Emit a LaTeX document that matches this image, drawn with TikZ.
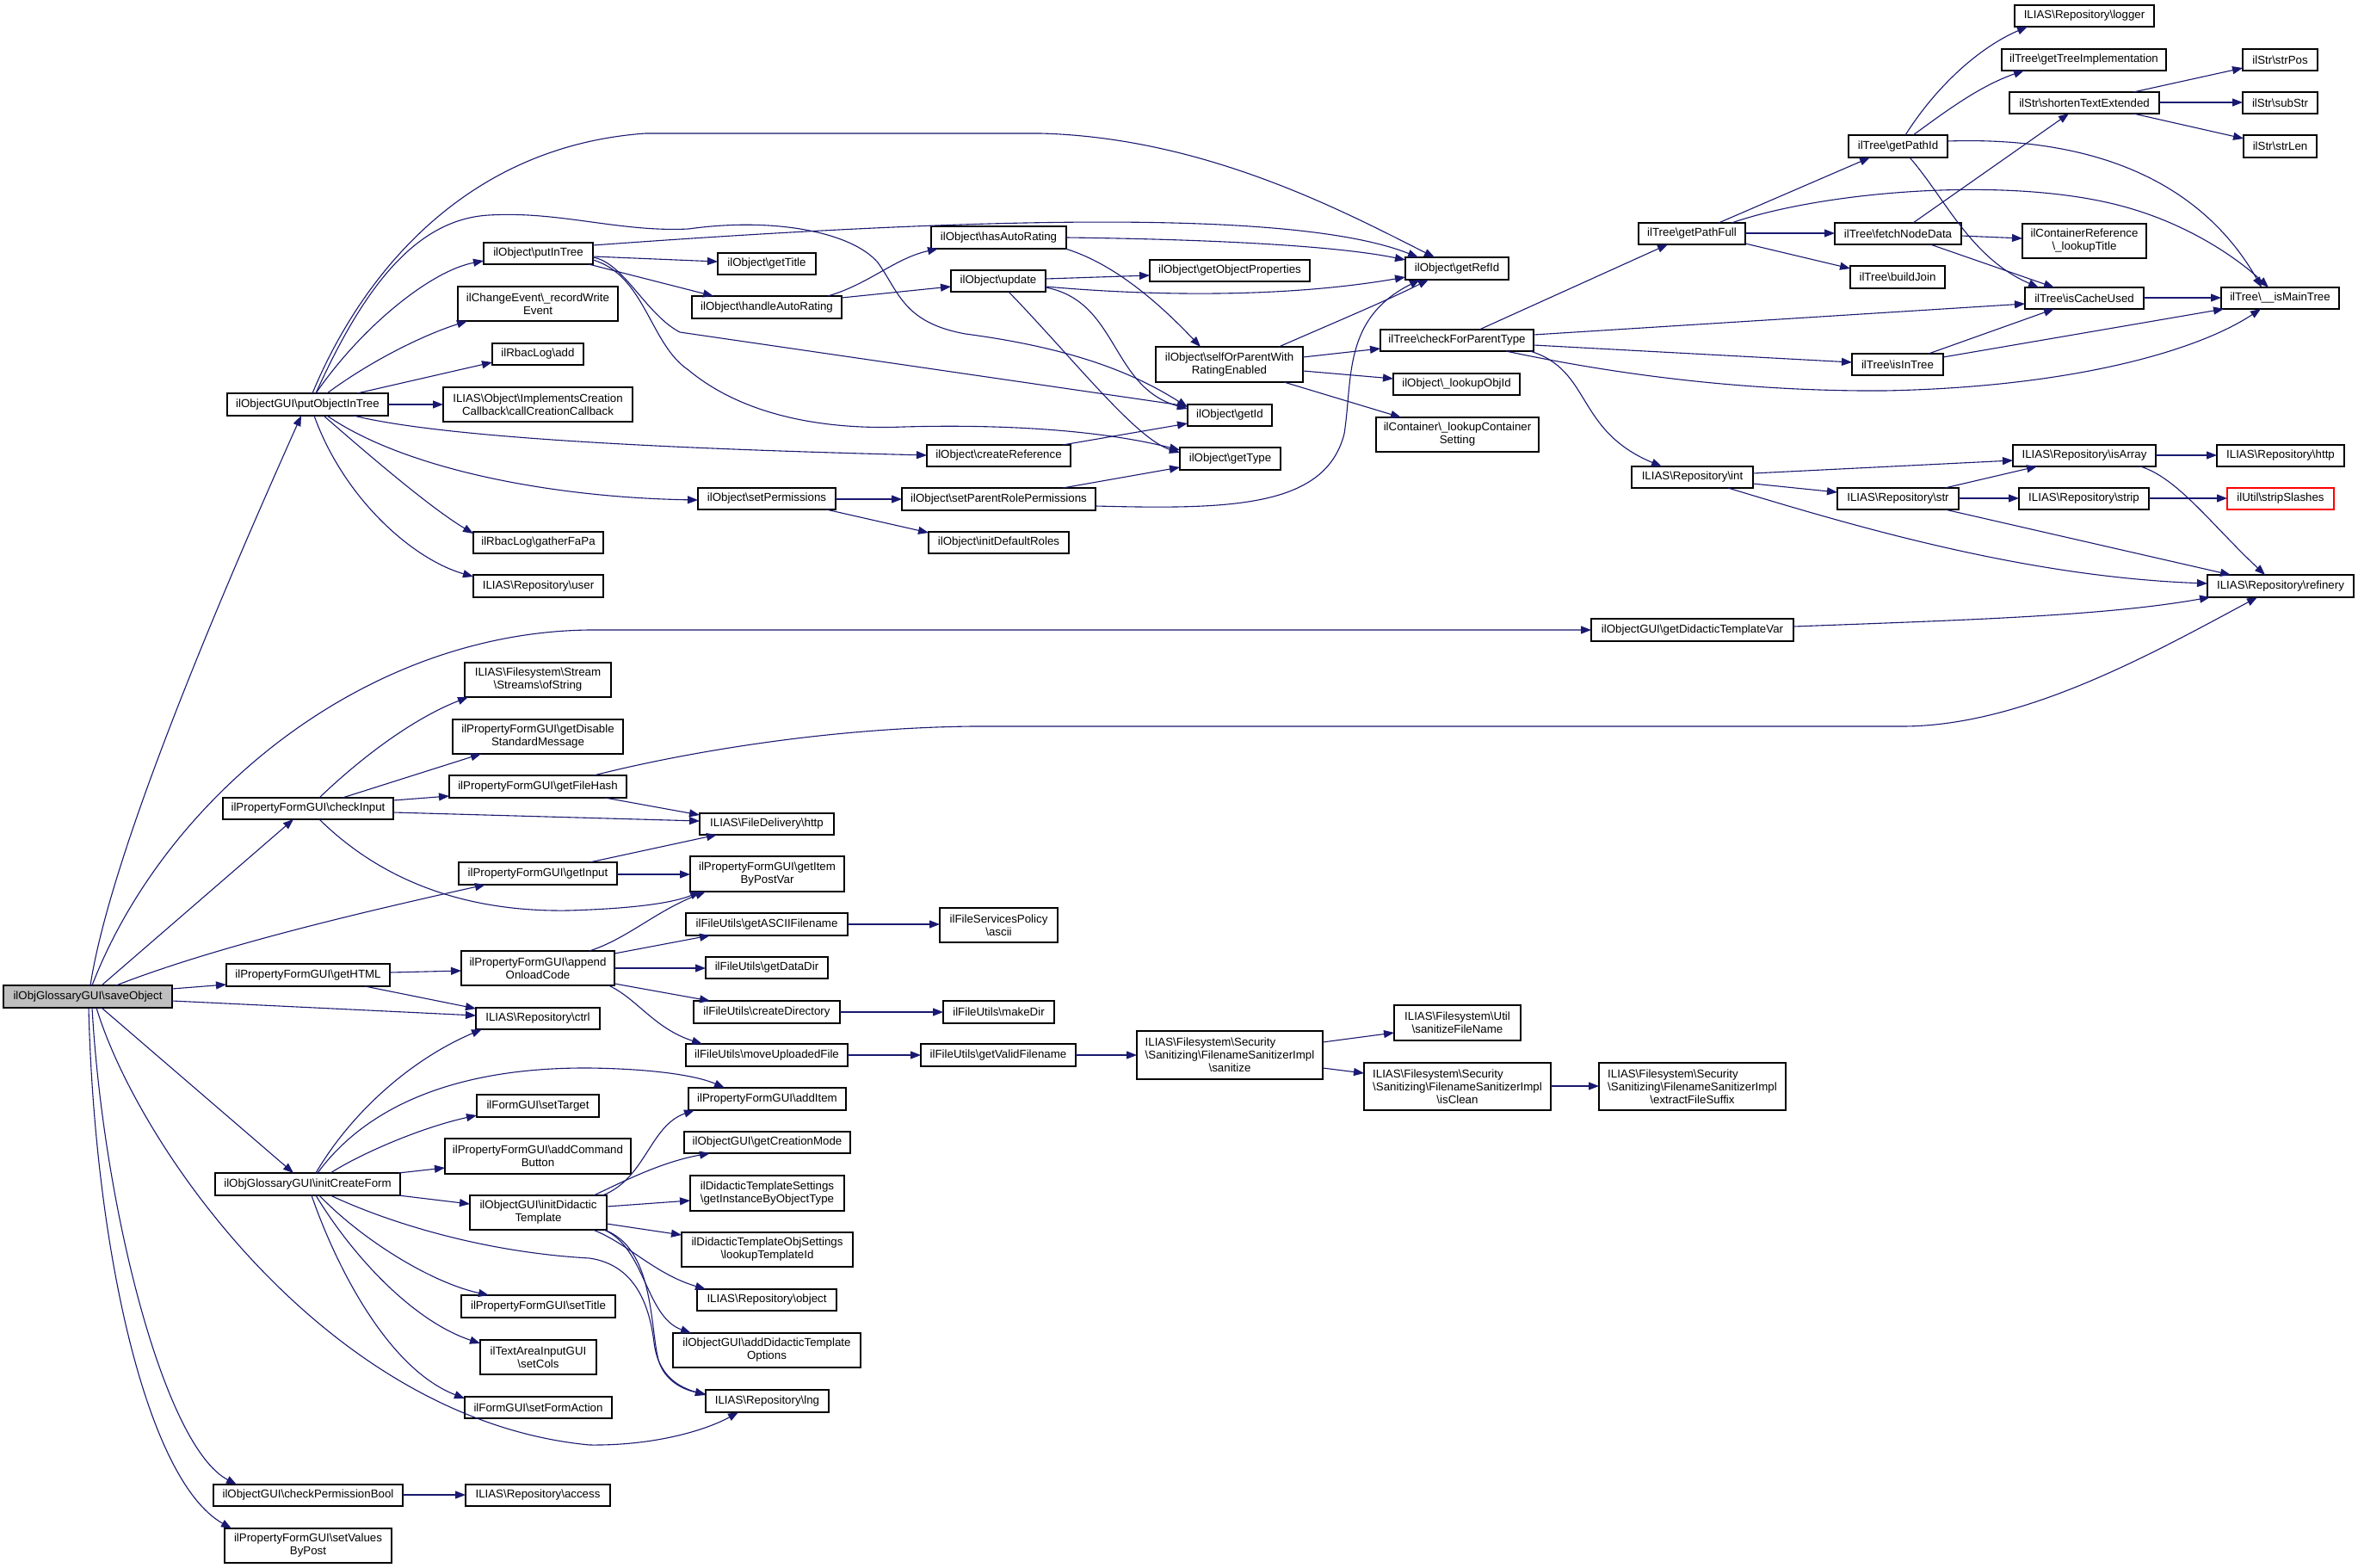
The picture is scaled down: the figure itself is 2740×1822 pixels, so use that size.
\documentclass[tikz,border=0pt]{standalone}
\usepackage{fontspec}
\setmainfont{Liberation Sans}
\usetikzlibrary{arrows.meta}
\definecolor{edgeblue}{RGB}{25,25,112}
\definecolor{nodegrey}{RGB}{191,191,191}
\newcommand{\bsl}{\textbackslash}
\newcommand{\nodefont}{\fontsize{13.3}{15}\selectfont}
\newcommand{\mkbox}[7]{%
  \pgfmathsetmacro{\mkW}{#5-#3}\pgfmathsetmacro{\mkH}{#6-#4}%
  \pgfmathsetmacro{\mkX}{(#3+#5)/2}\pgfmathsetmacro{\mkY}{(#4+#6)/2}%
  \node[box,#1,minimum width=\mkW pt,minimum height=\mkH pt] (#2) at (\mkX,\mkY) {#7};}
\begin{document}
\begin{tikzpicture}[x=1pt,y=-1pt,
  box/.style={draw=black,line width=1.3pt,fill=white,inner sep=0pt,outer sep=0pt,align=center,font=\nodefont},
  e/.style={draw=edgeblue,line width=1.1pt,-{Triangle[length=12pt,width=9pt]}}]
\useasboundingbox (0,0) rectangle (2740,1822);
\fill[white] (0,0) rectangle (2740,1822);
% ---------- nodes ----------
\mkbox{fill=nodegrey}{S}{4}{1145}{200}{1171}{ilObjGlossaryGUI\bsl saveObject}
\mkbox{}{P}{264}{457}{451}{483}{ilObjectGUI\bsl putObjectInTree}
\mkbox{}{CI}{259}{927}{457}{952}{ilPropertyFormGUI\bsl checkInput}
\mkbox{}{GH}{263}{1120}{453}{1146}{ilPropertyFormGUI\bsl getHTML}
\mkbox{}{ICF}{250}{1363}{465}{1389}{ilObjGlossaryGUI\bsl initCreateForm}
\mkbox{}{CPB}{248}{1725}{468}{1750}{ilObjectGUI\bsl checkPermissionBool}
\mkbox{}{SVP}{261}{1776}{455}{1816}{ilPropertyFormGUI\bsl setValues\\ByPost}
\mkbox{}{PIT}{562}{282}{689}{307}{ilObject\bsl putInTree}
\mkbox{}{RWE}{532}{333}{718}{373}{ilChangeEvent\bsl\_recordWrite\\Event}
\mkbox{}{RLA}{572}{399}{678}{424}{ilRbacLog\bsl add}
\mkbox{}{CCC}{515}{450}{735}{490}{ILIAS\bsl Object\bsl ImplementsCreation\\Callback\bsl callCreationCallback}
\mkbox{}{GFP}{550}{618}{701}{643}{ilRbacLog\bsl gatherFaPa}
\mkbox{}{USR}{550}{668}{701}{694}{ILIAS\bsl Repository\bsl user}
\mkbox{}{OFS}{540}{770}{710}{810}{ILIAS\bsl Filesystem\bsl Stream\\\bsl Streams\bsl ofString}
\mkbox{}{GDSM}{526}{836}{724}{876}{ilPropertyFormGUI\bsl getDisable\\StandardMessage}
\mkbox{}{GFH}{522}{901}{728}{927}{ilPropertyFormGUI\bsl getFileHash}
\mkbox{}{GIN}{533}{1002}{717}{1028}{ilPropertyFormGUI\bsl getInput}
\mkbox{}{AOC}{536}{1105}{714}{1145}{ilPropertyFormGUI\bsl append\\OnloadCode}
\mkbox{}{CTRL}{553}{1171}{697}{1196}{ILIAS\bsl Repository\bsl ctrl}
\mkbox{}{SETT}{554}{1272}{696}{1298}{ilFormGUI\bsl setTarget}
\mkbox{}{ACB}{517}{1323}{733}{1364}{ilPropertyFormGUI\bsl addCommand\\Button}
\mkbox{}{IDT}{546}{1389}{705}{1429}{ilObjectGUI\bsl initDidactic\\Template}
\mkbox{}{STI}{536}{1505}{715}{1531}{ilPropertyFormGUI\bsl setTitle}
\mkbox{}{SCO}{558}{1557}{693}{1597}{ilTextAreaInputGUI\\\bsl setCols}
\mkbox{}{SFA}{540}{1623}{711}{1648}{ilFormGUI\bsl setFormAction}
\mkbox{}{ACC}{541}{1725}{709}{1750}{ILIAS\bsl Repository\bsl access}
\mkbox{}{GT}{834}{294}{948}{319}{ilObject\bsl getTitle}
\mkbox{}{HAR}{804}{344}{978}{370}{ilObject\bsl handleAutoRating}
\mkbox{}{SP}{811}{567}{971}{592}{ilObject\bsl setPermissions}
\mkbox{}{FDH}{813}{945}{969}{970}{ILIAS\bsl FileDelivery\bsl http}
\mkbox{}{GIBP}{802}{995}{981}{1036}{ilPropertyFormGUI\bsl getItem\\ByPostVar}
\mkbox{}{GAF}{797}{1061}{985}{1087}{ilFileUtils\bsl getASCIIFilename}
\mkbox{}{GDD}{820}{1112}{962}{1137}{ilFileUtils\bsl getDataDir}
\mkbox{}{CD}{806}{1163}{976}{1189}{ilFileUtils\bsl createDirectory}
\mkbox{}{MUF}{797}{1213}{985}{1239}{ilFileUtils\bsl moveUploadedFile}
\mkbox{}{AI}{800}{1264}{983}{1290}{ilPropertyFormGUI\bsl addItem}
\mkbox{}{GCM}{795}{1315}{988}{1340}{ilObjectGUI\bsl getCreationMode}
\mkbox{}{GIOT}{802}{1366}{981}{1407}{ilDidacticTemplateSettings\\\bsl getInstanceByObjectType}
\mkbox{}{LTI}{792}{1432}{991}{1472}{ilDidacticTemplateObjSettings\\\bsl lookupTemplateId}
\mkbox{}{OBJ}{810}{1498}{972}{1523}{ILIAS\bsl Repository\bsl object}
\mkbox{}{ADTO}{782}{1549}{1000}{1589}{ilObjectGUI\bsl addDidacticTemplate\\Options}
\mkbox{}{LNG}{820}{1615}{963}{1641}{ILIAS\bsl Repository\bsl lng}
\mkbox{}{HASAR}{1082}{263}{1239}{289}{ilObject\bsl hasAutoRating}
\mkbox{}{UPD}{1105}{314}{1215}{339}{ilObject\bsl update}
\mkbox{}{CR}{1077}{517}{1244}{542}{ilObject\bsl createReference}
\mkbox{}{SPRP}{1048}{567}{1273}{593}{ilObject\bsl setParentRolePermissions}
\mkbox{}{IDR}{1079}{618}{1242}{643}{ilObject\bsl initDefaultRoles}
\mkbox{}{FSPA}{1092}{1055}{1229}{1095}{ilFileServicesPolicy\\\bsl ascii}
\mkbox{}{MKD}{1096}{1163}{1225}{1189}{ilFileUtils\bsl makeDir}
\mkbox{}{GVF}{1070}{1213}{1250}{1239}{ilFileUtils\bsl getValidFilename}
\mkbox{}{GOP}{1336}{302}{1522}{327}{ilObject\bsl getObjectProperties}
\mkbox{}{SOP}{1343}{403}{1514}{444}{ilObject\bsl selfOrParentWith\\RatingEnabled}
\mkbox{}{GID}{1380}{470}{1478}{495}{ilObject\bsl getId}
\mkbox{}{GTY}{1371}{520}{1488}{546}{ilObject\bsl getType}
\mkbox{}{SAN}{1321}{1198}{1537}{1254}{\rlap{ILIAS\bsl Filesystem\bsl Security}\phantom{\bsl Sanitizing\bsl FilenameSanitizerImpl}\\\bsl Sanitizing\bsl FilenameSanitizerImpl\\\bsl sanitize}
\mkbox{}{GRI}{1633}{299}{1753}{325}{ilObject\bsl getRefId}
\mkbox{}{CFPT}{1604}{383}{1782}{408}{ilTree\bsl checkForParentType}
\mkbox{}{LOI}{1619}{434}{1766}{459}{ilObject\bsl\_lookupObjId}
\mkbox{}{LCS}{1599}{485}{1788}{525}{ilContainer\bsl\_lookupContainer\\Setting}
\mkbox{}{SFN}{1620}{1168}{1767}{1209}{ILIAS\bsl Filesystem\bsl Util\\\bsl sanitizeFileName}
\mkbox{}{ISC}{1585}{1235}{1802}{1290}{\rlap{ILIAS\bsl Filesystem\bsl Security}\phantom{\bsl Sanitizing\bsl FilenameSanitizerImpl}\\\bsl Sanitizing\bsl FilenameSanitizerImpl\\\bsl isClean}
\mkbox{}{GPF}{1904}{259}{2028}{284}{ilTree\bsl getPathFull}
\mkbox{}{INT}{1896}{542}{2037}{567}{ILIAS\bsl Repository\bsl int}
\mkbox{}{GDTV}{1849}{719}{2084}{745}{ilObjectGUI\bsl getDidacticTemplateVar}
\mkbox{}{EFS}{1858}{1235}{2075}{1290}{\rlap{ILIAS\bsl Filesystem\bsl Security}\phantom{\bsl Sanitizing\bsl FilenameSanitizerImpl}\\\bsl Sanitizing\bsl FilenameSanitizerImpl\\\bsl extractFileSuffix}
\mkbox{}{GPI}{2148}{157}{2263}{183}{ilTree\bsl getPathId}
\mkbox{}{FND}{2132}{259}{2279}{284}{ilTree\bsl fetchNodeData}
\mkbox{}{BJ}{2150}{309}{2260}{335}{ilTree\bsl buildJoin}
\mkbox{}{IIT}{2152}{411}{2258}{436}{ilTree\bsl isInTree}
\mkbox{}{STR}{2135}{567}{2276}{592}{ILIAS\bsl Repository\bsl str}
\mkbox{}{LOG}{2341}{6}{2503}{31}{ILIAS\bsl Repository\bsl logger}
\mkbox{}{GTI}{2326}{57}{2517}{82}{ilTree\bsl getTreeImplementation}
\mkbox{}{STE}{2335}{107}{2509}{132}{ilStr\bsl shortenTextExtended}
\mkbox{}{LUT}{2350}{260}{2494}{300}{ilContainerReference\\\bsl\_lookupTitle}
\mkbox{}{ICU}{2353}{334}{2491}{359}{ilTree\bsl isCacheUsed}
\mkbox{}{ISA}{2339}{517}{2505}{542}{ILIAS\bsl Repository\bsl isArray}
\mkbox{}{STP}{2346}{567}{2497}{592}{ILIAS\bsl Repository\bsl strip}
\mkbox{}{SPOS}{2606}{57}{2693}{82}{ilStr\bsl strPos}
\mkbox{}{SSUB}{2606}{107}{2693}{132}{ilStr\bsl subStr}
\mkbox{}{SLEN}{2607}{157}{2692}{183}{ilStr\bsl strLen}
\mkbox{}{IMT}{2581}{334}{2718}{359}{ilTree\bsl\_\_isMainTree}
\mkbox{}{HTTP}{2576}{517}{2724}{542}{ILIAS\bsl Repository\bsl http}
\mkbox{draw=red}{SSL}{2588}{567}{2712}{592}{ilUtil\bsl stripSlashes}
\mkbox{}{REF}{2565}{668}{2735}{694}{ILIAS\bsl Repository\bsl refinery}
% ---------- edges from saveObject ----------
\draw[e] ([shift={(101,0)}]S.north west) .. controls (130,980) and (280,640) .. ([shift={(86,26)}]P.north west);
\draw[e] ([shift={(103,0)}]S.north west) .. controls (190,930) and (420,735) .. (685,732) -- ([shift={(0,13)}]GDTV.north west);
\draw[e] ([shift={(114,0)}]S.north west) -- ([shift={(82,25)}]CI.north west);
\draw[e] ([shift={(131,0)}]S.north west) .. controls (250,1100) and (420,1060) .. ([shift={(31,26)}]GIN.north west);
\draw[e] ([shift={(196,4)}]S.north west) -- ([shift={(0,24)}]GH.north west);
\draw[e] ([shift={(196,18)}]S.north west) -- ([shift={(0,9)}]CTRL.north west);
\draw[e] ([shift={(114,26)}]S.north west) -- ([shift={(91,0)}]ICF.north west);
\draw[e] ([shift={(108,26)}]S.north west) .. controls (160,1330) and (380,1650) .. (685,1679) .. controls (760,1680) and (820,1662) .. ([shift={(38,26)}]LNG.north west);
\draw[e] ([shift={(103,26)}]S.north west) .. controls (120,1400) and (190,1680) .. ([shift={(27,0)}]CPB.north west);
\draw[e] ([shift={(99,26)}]S.north west) .. controls (110,1450) and (170,1720) .. ([shift={(8,0)}]SVP.north west);
% ---------- putObjectInTree ----------
\draw[e] ([shift={(99,0)}]P.north west) .. controls (420,320) and (540,170) .. (750,155) -- (1209,155) .. controls (1400,160) and (1560,245) .. ([shift={(34,0)}]GRI.north west);
\draw[e] ([shift={(103,0)}]P.north west) .. controls (420,340) and (480,255) .. (568,250) .. controls (650,245) and (720,270) .. (800,266) .. controls (900,252) and (990,270) .. (1020,305) .. controls (1045,340) and (1050,375) .. (1122,388) .. controls (1250,405) and (1320,435) .. ([shift={(0,3)}]GID.north west);
\draw[e] ([shift={(103,0)}]P.north west) .. controls (420,380) and (500,315) .. ([shift={(0,21)}]PIT.north west);
\draw[e] ([shift={(116,0)}]P.north west) .. controls (430,420) and (490,390) .. ([shift={(11,40)}]RWE.north west);
\draw[e] ([shift={(151,0)}]P.north west) -- ([shift={(0,22)}]RLA.north west);
\draw[e] ([shift={(187,13)}]P.north west) -- ([shift={(0,20)}]CCC.north west);
\draw[e] ([shift={(147,26)}]P.north west) .. controls (520,510) and (800,522) .. ([shift={(0,12)}]CR.north west);
\draw[e] ([shift={(116,26)}]P.north west) .. controls (470,545) and (640,578) .. ([shift={(0,14)}]SP.north west);
\draw[e] ([shift={(112,26)}]P.north west) .. controls (430,530) and (500,590) .. ([shift={(0,2)}]GFP.north west);
\draw[e] ([shift={(101,26)}]P.north west) .. controls (400,580) and (480,650) .. ([shift={(0,2)}]USR.north west);
% ---------- putInTree ----------
\draw[e] ([shift={(127,3)}]PIT.north west) .. controls (1100,255) and (1500,240) .. ([shift={(15,0)}]GRI.north west);
\draw[e] ([shift={(127,16)}]PIT.north west) -- ([shift={(0,10)}]GT.north west);
\draw[e] ([shift={(122,25)}]PIT.north west) -- ([shift={(25,0)}]HAR.north west);
\draw[e] ([shift={(127,17)}]PIT.north west) .. controls (725,305) and (750,365) .. (790,386) -- ([shift={(0,2)}]GID.north west);
\draw[e] ([shift={(127,20)}]PIT.north west) .. controls (750,320) and (755,400) .. (800,430) .. controls (860,480) and (950,500) .. (1050,496) .. controls (1200,492) and (1300,505) .. ([shift={(0,3)}]GTY.north west);
% ---------- ilObject middle ----------
\draw[e] ([shift={(158,0)}]HAR.north west) .. controls (1010,330) and (1040,300) .. ([shift={(8,26)}]HASAR.north west);
\draw[e] ([shift={(174,2)}]HAR.north west) -- ([shift={(0,19)}]UPD.north west);
\draw[e] ([shift={(157,13)}]HASAR.north west) .. controls (1400,278) and (1550,285) .. ([shift={(0,3)}]GRI.north west);
\draw[e] ([shift={(156,26)}]HASAR.north west) .. controls (1290,305) and (1340,345) .. ([shift={(52,0)}]SOP.north west);
\draw[e] ([shift={(110,10)}]UPD.north west) -- ([shift={(0,18)}]GOP.north west);
\draw[e] ([shift={(110,19)}]UPD.north west) .. controls (1350,345) and (1500,345) .. ([shift={(0,23)}]GRI.north west);
\draw[e] ([shift={(110,20)}]UPD.north west) .. controls (1300,350) and (1290,450) .. ([shift={(0,5)}]GID.north west);
\draw[e] ([shift={(67,25)}]UPD.north west) .. controls (1250,420) and (1320,510) .. ([shift={(0,6)}]GTY.north west);
\draw[e] ([shift={(158,0)}]CR.north west) -- ([shift={(0,22)}]GID.north west);
\draw[e] ([shift={(160,13)}]SP.north west) -- ([shift={(0,13)}]SPRP.north west);
\draw[e] ([shift={(149,25)}]SP.north west) -- ([shift={(0,1)}]IDR.north west);
\draw[e] ([shift={(187,0)}]SPRP.north west) -- ([shift={(0,23)}]GTY.north west);
\draw[e] ([shift={(225,21)}]SPRP.north west) .. controls (1430,592) and (1540,590) .. (1562,504) .. controls (1572,440) and (1560,370) .. ([shift={(17,26)}]GRI.north west);
% ---------- selfOrParent / checkForParentType ----------
\draw[e] ([shift={(143,0)}]SOP.north west) .. controls (1550,375) and (1610,350) .. ([shift={(27,26)}]GRI.north west);
\draw[e] ([shift={(171,12)}]SOP.north west) -- ([shift={(0,22)}]CFPT.north west);
\draw[e] ([shift={(171,28)}]SOP.north west) -- ([shift={(0,6)}]LOI.north west);
\draw[e] ([shift={(149,41)}]SOP.north west) -- ([shift={(29,0)}]LCS.north west);
\draw[e] ([shift={(115,0)}]CFPT.north west) -- ([shift={(34,25)}]GPF.north west);
\draw[e] ([shift={(178,6)}]CFPT.north west) -- ([shift={(0,19)}]ICU.north west);
\draw[e] ([shift={(178,18)}]CFPT.north west) -- ([shift={(0,10)}]IIT.north west);
\draw[e] ([shift={(146,25)}]CFPT.north west) .. controls (1900,440) and (2050,455) .. (2190,454) .. controls (2400,450) and (2550,410) .. ([shift={(46,25)}]IMT.north west);
\draw[e] ([shift={(174,25)}]CFPT.north west) .. controls (1850,430) and (1830,500) .. ([shift={(35,0)}]INT.north west);
% ---------- ilTree ----------
\draw[e] ([shift={(93,0)}]GPF.north west) -- ([shift={(25,26)}]GPI.north west);
\draw[e] ([shift={(108,0)}]GPF.north west) .. controls (2120,222) and (2330,205) .. (2460,238) .. controls (2540,258) and (2600,300) .. ([shift={(55,0)}]IMT.north west);
\draw[e] ([shift={(124,12)}]GPF.north west) -- ([shift={(0,12)}]FND.north west);
\draw[e] ([shift={(124,24)}]GPF.north west) -- ([shift={(0,3)}]BJ.north west);
\draw[e] ([shift={(66,0)}]GPI.north west) .. controls (2250,100) and (2300,55) .. ([shift={(15,25)}]LOG.north west);
\draw[e] ([shift={(75,0)}]GPI.north west) .. controls (2260,130) and (2300,100) .. ([shift={(26,25)}]GTI.north west);
\draw[e] ([shift={(115,7)}]GPI.north west) .. controls (2440,158) and (2560,215) .. ([shift={(47,0)}]IMT.north west);
\draw[e] ([shift={(71,26)}]GPI.north west) .. controls (2260,230) and (2290,300) .. ([shift={(16,0)}]ICU.north west);
\draw[e] ([shift={(91,0)}]FND.north west) -- ([shift={(69,25)}]STE.north west);
\draw[e] ([shift={(147,15)}]FND.north west) -- ([shift={(0,17)}]LUT.north west);
\draw[e] ([shift={(111,25)}]FND.north west) -- ([shift={(34,0)}]ICU.north west);
\draw[e] ([shift={(144,0)}]STE.north west) -- ([shift={(0,22)}]SPOS.north west);
\draw[e] ([shift={(174,12)}]STE.north west) -- ([shift={(0,12)}]SSUB.north west);
\draw[e] ([shift={(144,25)}]STE.north west) -- ([shift={(0,4)}]SLEN.north west);
\draw[e] ([shift={(138,12)}]ICU.north west) -- ([shift={(0,12)}]IMT.north west);
\draw[e] ([shift={(89,0)}]IIT.north west) -- ([shift={(34,25)}]ICU.north west);
\draw[e] ([shift={(106,4)}]IIT.north west) -- ([shift={(3,25)}]IMT.north west);
% ---------- Repository ----------
\draw[e] ([shift={(141,8)}]INT.north west) -- ([shift={(0,18)}]ISA.north west);
\draw[e] ([shift={(141,20)}]INT.north west) -- ([shift={(0,5)}]STR.north west);
\draw[e] ([shift={(112,25)}]INT.north west) .. controls (2150,610) and (2350,670) .. ([shift={(0,10)}]REF.north west);
\draw[e] ([shift={(125,0)}]STR.north west) -- ([shift={(28,25)}]ISA.north west);
\draw[e] ([shift={(141,12)}]STR.north west) -- ([shift={(0,12)}]STP.north west);
\draw[e] ([shift={(125,25)}]STR.north west) -- ([shift={(27,0)}]REF.north west);
\draw[e] ([shift={(166,12)}]ISA.north west) -- ([shift={(0,12)}]HTTP.north west);
\draw[e] ([shift={(148,25)}]ISA.north west) .. controls (2530,555) and (2570,610) .. ([shift={(67,0)}]REF.north west);
\draw[e] ([shift={(151,12)}]STP.north west) -- ([shift={(0,12)}]SSL.north west);
\draw[e] ([shift={(235,9)}]GDTV.north west) .. controls (2300,720) and (2450,715) .. ([shift={(3,26)}]REF.north west);
\draw[e] ([shift={(168,0)}]GFH.north west) .. controls (780,878) and (950,846) .. (1130,844) -- (2210,844) .. controls (2350,844) and (2500,760) .. ([shift={(58,26)}]REF.north west);
% ---------- checkInput ----------
\draw[e] ([shift={(112,0)}]CI.north west) .. controls (420,880) and (480,835) .. ([shift={(4,40)}]OFS.north west);
\draw[e] ([shift={(139,0)}]CI.north west) -- ([shift={(33,40)}]GDSM.north west);
\draw[e] ([shift={(198,3)}]CI.north west) -- ([shift={(0,24)}]GFH.north west);
\draw[e] ([shift={(198,17)}]CI.north west) -- ([shift={(0,9)}]FDH.north west);
\draw[e] ([shift={(112,25)}]CI.north west) .. controls (430,1010) and (520,1060) .. (660,1058) .. controls (730,1056) and (780,1050) .. ([shift={(12,41)}]GIBP.north west);
\draw[e] ([shift={(181,26)}]GFH.north west) -- ([shift={(0,2)}]FDH.north west);
\draw[e] ([shift={(152,0)}]GIN.north west) -- ([shift={(20,25)}]FDH.north west);
\draw[e] ([shift={(184,14)}]GIN.north west) -- ([shift={(0,21)}]GIBP.north west);
% ---------- getHTML / appendOnloadCode ----------
\draw[e] ([shift={(190,10)}]GH.north west) -- ([shift={(0,23)}]AOC.north west);
\draw[e] ([shift={(161,26)}]GH.north west) -- ([shift={(0,1)}]CTRL.north west);
\draw[e] ([shift={(149,0)}]AOC.north west) .. controls (730,1090) and (760,1060) .. ([shift={(18,41)}]GIBP.north west);
\draw[e] ([shift={(178,3)}]AOC.north west) -- ([shift={(28,26)}]GAF.north west);
\draw[e] ([shift={(178,20)}]AOC.north west) -- ([shift={(0,13)}]GDD.north west);
\draw[e] ([shift={(178,38)}]AOC.north west) -- ([shift={(19,0)}]CD.north west);
\draw[e] ([shift={(171,40)}]AOC.north west) .. controls (740,1160) and (760,1195) .. ([shift={(19,0)}]MUF.north west);
\draw[e] ([shift={(188,13)}]GAF.north west) -- ([shift={(0,19)}]FSPA.north west);
\draw[e] ([shift={(170,13)}]CD.north west) -- ([shift={(0,13)}]MKD.north west);
\draw[e] ([shift={(188,13)}]MUF.north west) -- ([shift={(0,13)}]GVF.north west);
\draw[e] ([shift={(180,13)}]GVF.north west) -- ([shift={(0,28)}]SAN.north west);
\draw[e] ([shift={(216,13)}]SAN.north west) -- ([shift={(0,32)}]SFN.north west);
\draw[e] ([shift={(216,43)}]SAN.north west) -- ([shift={(0,12)}]ISC.north west);
\draw[e] ([shift={(217,27)}]ISC.north west) -- ([shift={(0,27)}]EFS.north west);
% ---------- initCreateForm ----------
\draw[e] ([shift={(117,0)}]ICF.north west) .. controls (410,1290) and (480,1230) .. ([shift={(7,25)}]CTRL.north west);
\draw[e] ([shift={(119,0)}]ICF.north west) .. controls (430,1280) and (540,1240) .. (685,1241) .. controls (760,1242) and (810,1250) .. ([shift={(42,0)}]AI.north west);
\draw[e] ([shift={(134,0)}]ICF.north west) .. controls (420,1340) and (490,1310) .. ([shift={(0,24)}]SETT.north west);
\draw[e] ([shift={(213,0)}]ICF.north west) -- ([shift={(0,34)}]ACB.north west);
\draw[e] ([shift={(213,26)}]ICF.north west) -- ([shift={(0,10)}]IDT.north west);
\draw[e] ([shift={(134,26)}]ICF.north west) .. controls (450,1420) and (560,1455) .. (685,1462) .. controls (740,1470) and (755,1520) .. (760,1560) .. controls (765,1600) and (790,1612) .. ([shift={(0,6)}]LNG.north west);
\draw[e] ([shift={(121,26)}]ICF.north west) .. controls (420,1440) and (500,1490) .. ([shift={(32,0)}]STI.north west);
\draw[e] ([shift={(117,26)}]ICF.north west) .. controls (410,1460) and (480,1535) .. ([shift={(0,4)}]SCO.north west);
\draw[e] ([shift={(112,26)}]ICF.north west) .. controls (390,1470) and (450,1590) .. ([shift={(0,2)}]SFA.north west);
\draw[e] ([shift={(220,12)}]CPB.north west) -- ([shift={(0,12)}]ACC.north west);
% ---------- initDidacticTemplate ----------
\draw[e] ([shift={(154,0)}]IDT.north west) .. controls (750,1370) and (755,1308) .. ([shift={(7,26)}]AI.north west);
\draw[e] ([shift={(144,0)}]IDT.north west) .. controls (730,1370) and (770,1350) .. ([shift={(30,25)}]GCM.north west);
\draw[e] ([shift={(159,13)}]IDT.north west) -- ([shift={(0,29)}]GIOT.north west);
\draw[e] ([shift={(159,33)}]IDT.north west) -- ([shift={(0,3)}]LTI.north west);
\draw[e] ([shift={(143,40)}]IDT.north west) .. controls (730,1445) and (760,1480) .. ([shift={(10,0)}]OBJ.north west);
\draw[e] ([shift={(156,40)}]IDT.north west) .. controls (750,1450) and (750,1530) .. ([shift={(21,0)}]ADTO.north west);
\draw[e] ([shift={(156,40)}]IDT.north west) .. controls (760,1450) and (755,1540) .. (765,1580) .. controls (772,1605) and (795,1615) .. ([shift={(0,5)}]LNG.north west);
\end{tikzpicture}
\end{document}
